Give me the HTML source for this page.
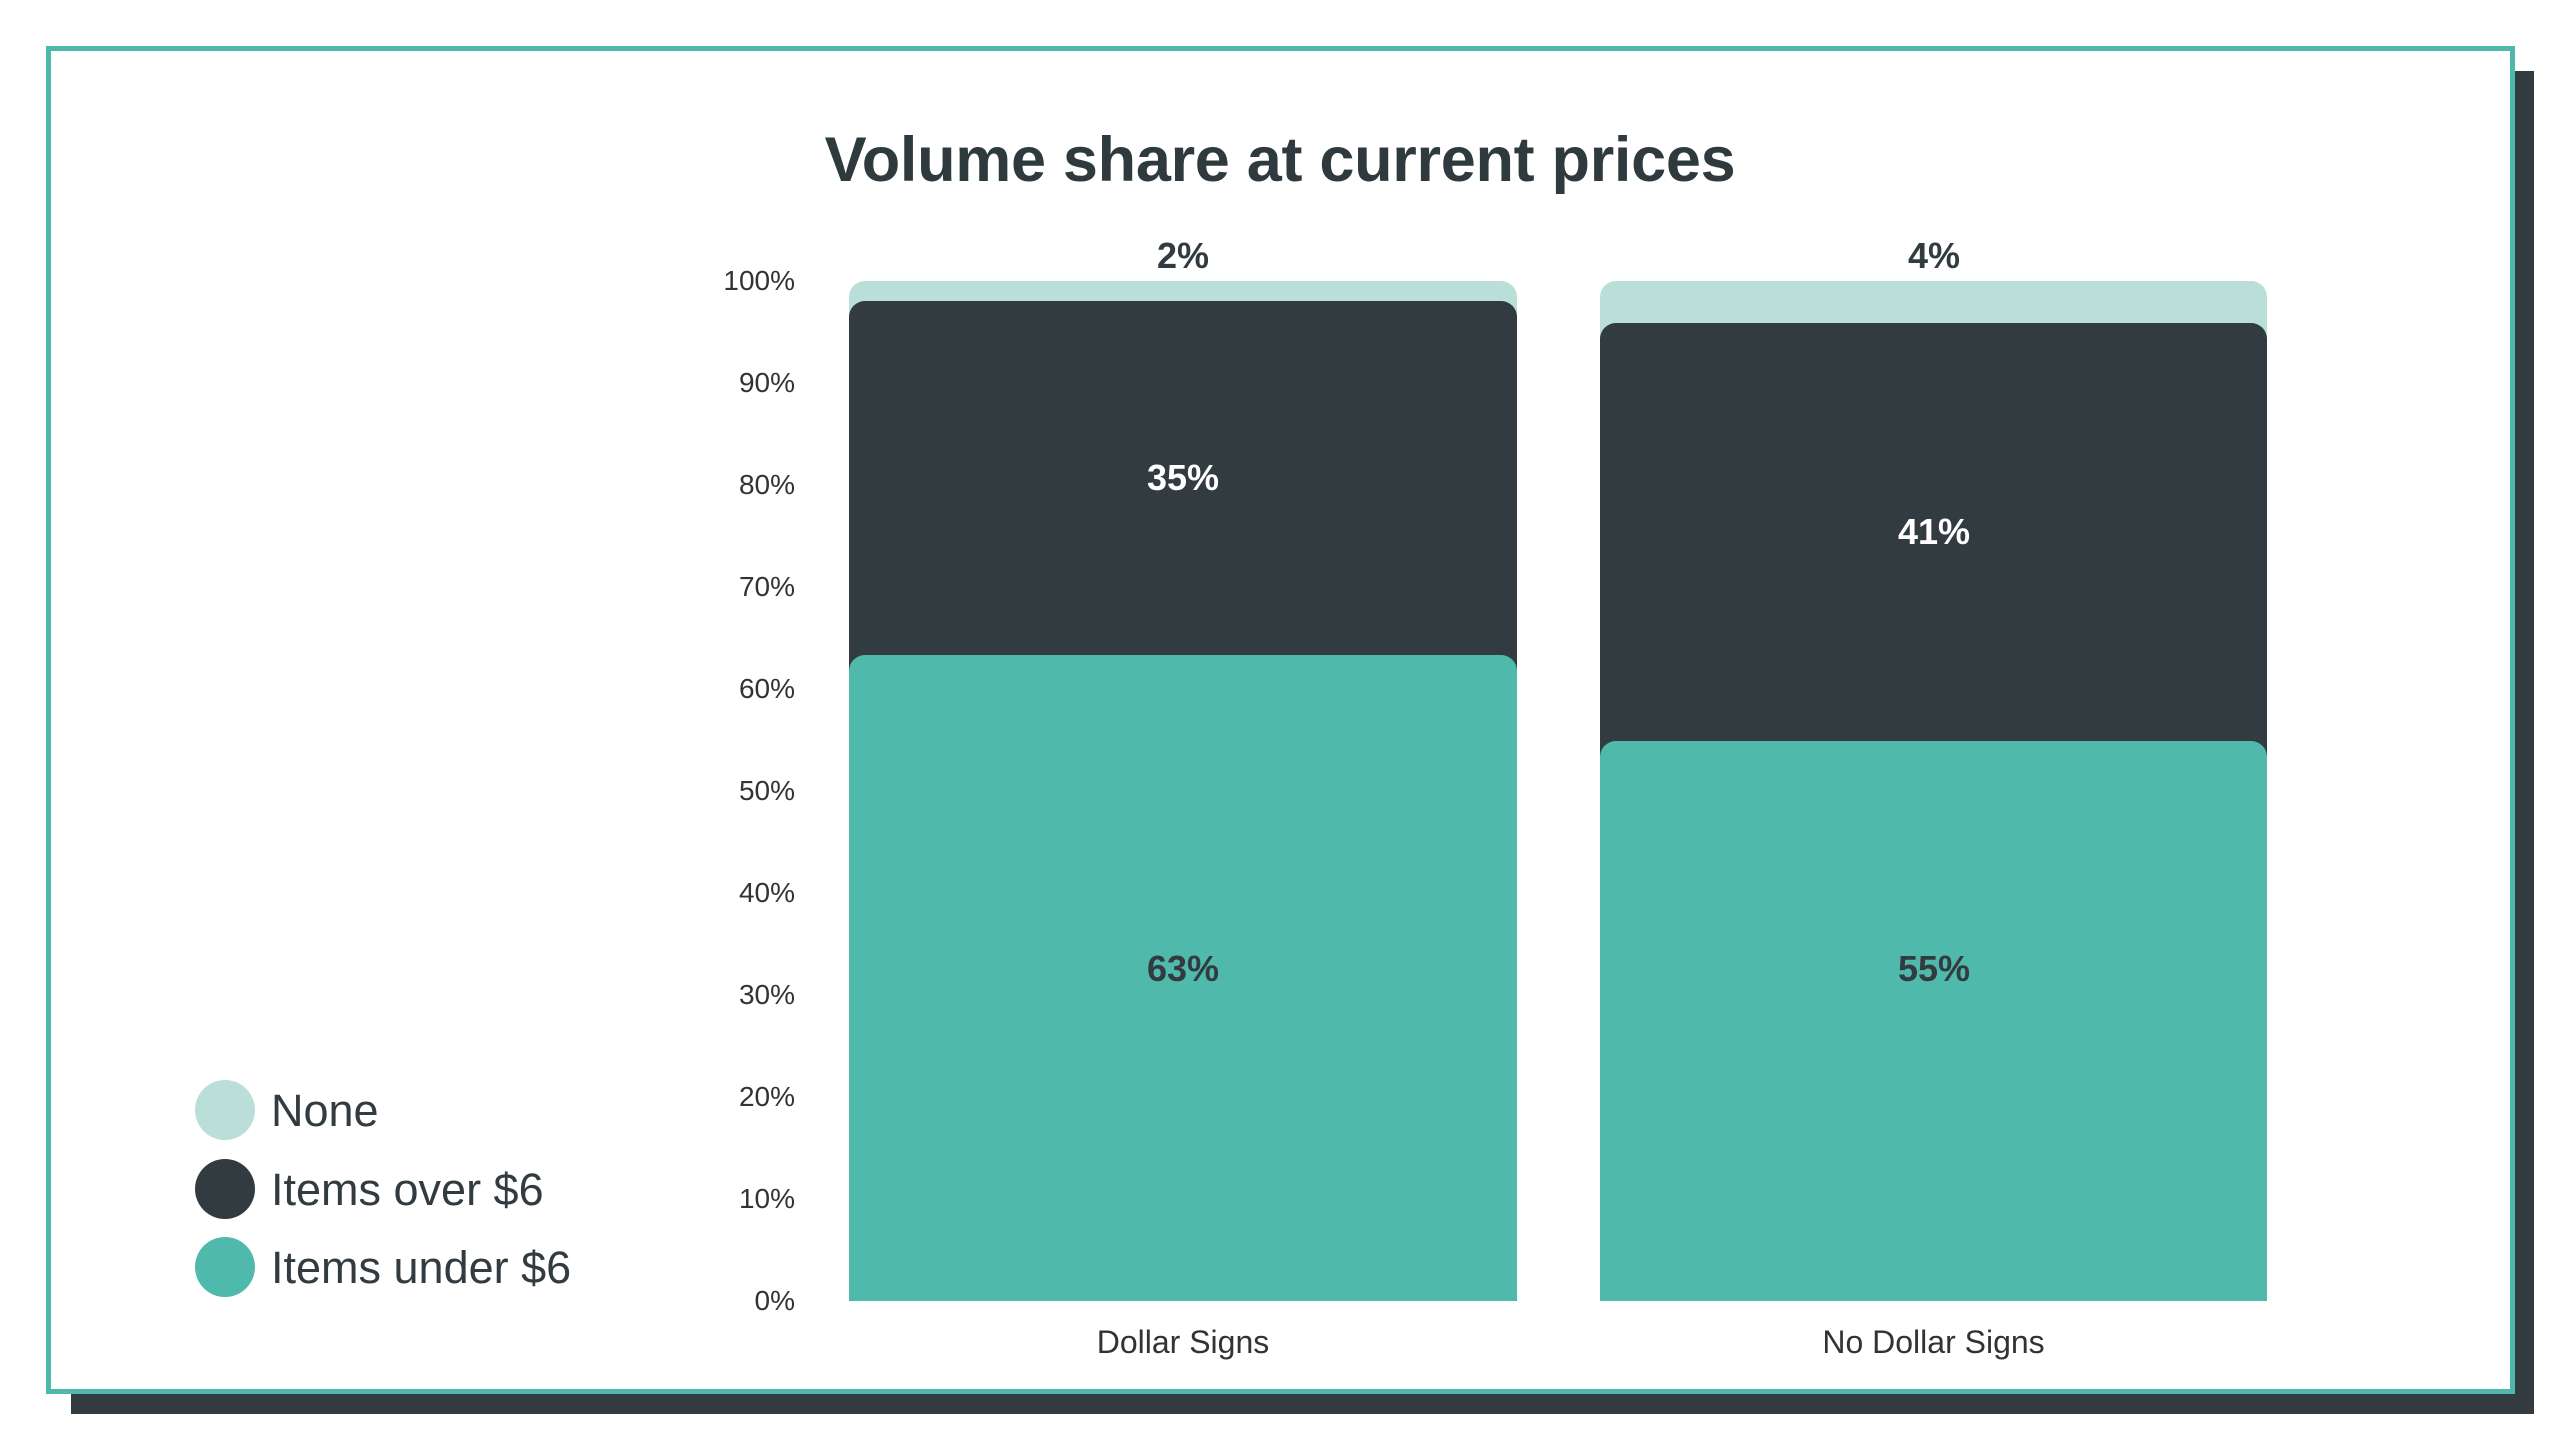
<!DOCTYPE html>
<html><head><meta charset="utf-8"><style>
*{margin:0;padding:0;box-sizing:border-box}
body{width:2560px;height:1440px;background:#fff;position:relative;overflow:hidden;font-family:"Liberation Sans",Arial,sans-serif;color:#313b40}
.abs{position:absolute}
.seg{position:absolute;border-radius:16px 16px 0 0}
.yl{position:absolute;right:1765px;font-size:28px;color:#333;line-height:28px;text-align:right}
.lbl{position:absolute;font-weight:bold;font-size:36px;line-height:36px;text-align:center;width:668px}
.leg{position:absolute;left:195px;width:60px;height:60px;border-radius:50%}
.legt{position:absolute;left:271px;font-size:45px;line-height:45px;color:#313b40}
</style></head><body>
<div class="abs" style="left:71px;top:71px;width:2463px;height:1343px;background:#313b40"></div>
<div class="abs" style="left:46px;top:46px;width:2469px;height:1348px;background:#fff;border:5px solid #4fb7ab"></div>
<div class="abs" style="left:0;width:2560px;top:124px;text-align:center;font-size:63px;letter-spacing:-0.3px;font-weight:bold;line-height:72px;color:#2f3a3f">Volume share at current prices</div>

<div class="yl" style="top:267px">100%</div>
<div class="yl" style="top:369px">90%</div>
<div class="yl" style="top:471px">80%</div>
<div class="yl" style="top:573px">70%</div>
<div class="yl" style="top:675px">60%</div>
<div class="yl" style="top:777px">50%</div>
<div class="yl" style="top:879px">40%</div>
<div class="yl" style="top:981px">30%</div>
<div class="yl" style="top:1083px">20%</div>
<div class="yl" style="top:1185px">10%</div>
<div class="yl" style="top:1287px">0%</div>

<div class="seg" style="left:849px;width:668px;top:281px;height:1020px;background:#b9dfd8"></div>
<div class="seg" style="left:849px;width:668px;top:301px;height:1000px;background:#313b40"></div>
<div class="seg" style="left:849px;width:668px;top:655px;height:646px;background:#4fb9ab"></div>

<div class="seg" style="left:1600px;width:667px;top:281px;height:1020px;background:#b9dfd8"></div>
<div class="seg" style="left:1600px;width:667px;top:323px;height:978px;background:#313b40"></div>
<div class="seg" style="left:1600px;width:667px;top:741px;height:560px;background:#4fb9ab"></div>

<div class="lbl" style="left:849px;top:238px;color:#313b40">2%</div>
<div class="lbl" style="left:1600px;top:238px;color:#313b40">4%</div>
<div class="lbl" style="left:849px;top:460px;color:#fff">35%</div>
<div class="lbl" style="left:1600px;top:514px;color:#fff">41%</div>
<div class="lbl" style="left:849px;top:951px;color:#313b40">63%</div>
<div class="lbl" style="left:1600px;top:951px;color:#313b40">55%</div>

<div class="abs" style="left:849px;width:668px;top:1325px;text-align:center;font-size:32px;line-height:34px;color:#333">Dollar Signs</div>
<div class="abs" style="left:1600px;width:667px;top:1325px;text-align:center;font-size:32px;line-height:34px;color:#333">No Dollar Signs</div>

<div class="leg" style="top:1080px;background:#b9dfd8"></div>
<div class="legt" style="top:1088px">None</div>
<div class="leg" style="top:1159px;background:#313b40"></div>
<div class="legt" style="top:1167px">Items over $6</div>
<div class="leg" style="top:1237px;background:#4fb9ab"></div>
<div class="legt" style="top:1245px">Items under $6</div>
</body></html>
